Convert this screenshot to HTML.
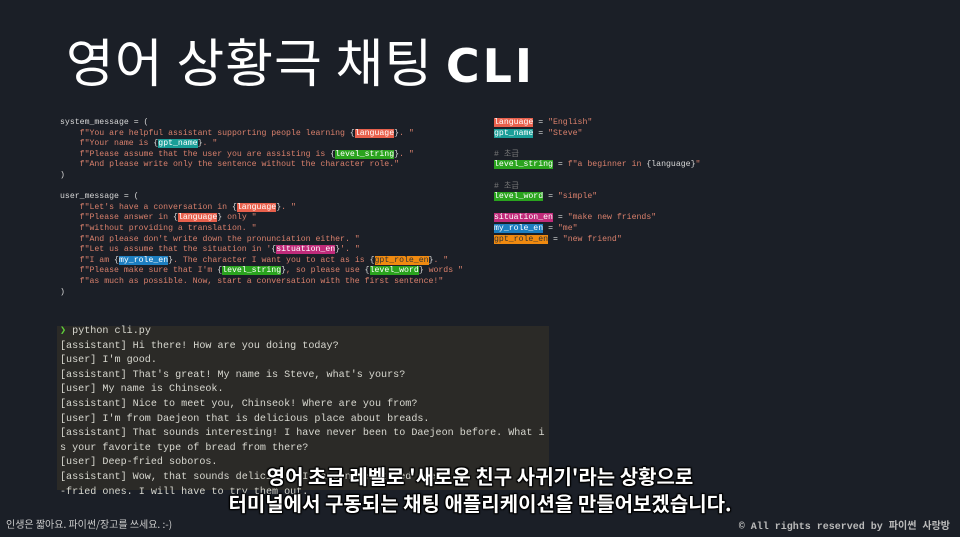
<!DOCTYPE html>
<html><head><meta charset="utf-8"><style>
*{margin:0;padding:0}
body{width:960px;height:537px;background:#1b1f27;position:relative;overflow:hidden;font-family:"Liberation Sans","Noto Sans CJK KR",sans-serif}
.t{position:absolute;left:66px;top:22px;color:#fff;font-size:52px;font-family:"Noto Sans CJK KR","Liberation Sans",sans-serif;white-space:nowrap;letter-spacing:1px}
.t b{font-family:"DejaVu Sans","Liberation Sans",sans-serif;font-weight:bold;font-size:46px;letter-spacing:3px}
pre{font-family:"Liberation Mono","Noto Sans CJK KR",monospace;position:absolute;white-space:pre}
.c{left:60px;top:118px;font-size:8.2px;line-height:10.6px;color:#d9806c}
.c2{left:494px;top:118px;font-size:8.2px;line-height:10.6px;color:#d9806c}
.w{color:#d8d8d8}.cm{color:#777}
.r{background:#e8604c;color:#fff}.tl{background:#1a9e98;color:#fff}.g{background:#2aa31e;color:#fff}
.m{background:#c02b7a;color:#fff}.b{background:#1d7ec0;color:#fff}.o{background:#f08a10;color:#333}
.term{position:absolute;left:57px;top:326px;width:492px;height:164px;background:#2b2a27}
.tt{left:60px;top:325px;font-size:10.1px;line-height:14.6px;color:#d8d8d0}
.sub{position:absolute;left:0;width:960px;text-align:center;color:#fff;font-size:20px;font-weight:bold;font-family:"Noto Sans CJK KR",sans-serif;text-shadow:0 0 2px #000,1px 1px 1px #000,-1px -1px 1px #000,1px -1px 1px #000,-1px 1px 1px #000;white-space:nowrap}
.f1{position:absolute;left:6px;top:516px;color:#ccc;font-size:10px;font-family:"Noto Sans CJK KR",sans-serif}
.f2{position:absolute;right:10px;top:517px;color:#bbb;font-size:10px;font-family:"Liberation Mono","Noto Sans CJK KR",monospace;font-weight:bold}
</style></head><body>
<div class="t">영어 상황극 채팅 <b>CLI</b></div>
<pre class="c"><span class="w">system_message = (</span>
    f"You are helpful assistant supporting people learning <span class="w">{</span><span class="r">language</span><span class="w">}</span>. "
    f"Your name is <span class="w">{</span><span class="tl">gpt_name</span><span class="w">}</span>. "
    f"Please assume that the user you are assisting is <span class="w">{</span><span class="g">level_string</span><span class="w">}</span>. "
    f"And please write only the sentence without the character role."
<span class="w">)</span>

<span class="w">user_message = (</span>
    f"Let's have a conversation in <span class="w">{</span><span class="r">language</span><span class="w">}</span>. "
    f"Please answer in <span class="w">{</span><span class="r">language</span><span class="w">}</span> only "
    f"without providing a translation. "
    f"And please don't write down the pronunciation either. "
    f"Let us assume that the situation in '<span class="w">{</span><span class="m">situation_en</span><span class="w">}</span>'. "
    f"I am <span class="w">{</span><span class="b">my_role_en</span><span class="w">}</span>. The character I want you to act as is <span class="w">{</span><span class="o">gpt_role_en</span><span class="w">}</span>. "
    f"Please make sure that I'm <span class="w">{</span><span class="g">level_string</span><span class="w">}</span>, so please use <span class="w">{</span><span class="g">level_word</span><span class="w">}</span> words "
    f"as much as possible. Now, start a conversation with the first sentence!"
<span class="w">)</span></pre>
<pre class="c2"><span class="r">language</span> <span class="w">=</span> "English"
<span class="tl">gpt_name</span> <span class="w">=</span> "Steve"

<span class="cm"># 초급</span>
<span class="g">level_string</span> <span class="w">=</span> f"a beginner in <span class="w">{language}</span>"

<span class="cm"># 초급</span>
<span class="g">level_word</span> <span class="w">=</span> "simple"

<span class="m">situation_en</span> <span class="w">=</span> "make new friends"
<span class="b">my_role_en</span> <span class="w">=</span> "me"
<span class="o">gpt_role_en</span> <span class="w">=</span> "new friend"</pre>
<div class="term"></div>
<pre class="tt"><span style="color:#5fd03a">❯</span> python cli.py
[assistant] Hi there! How are you doing today?
[user] I'm good.
[assistant] That's great! My name is Steve, what's yours?
[user] My name is Chinseok.
[assistant] Nice to meet you, Chinseok! Where are you from?
[user] I'm from Daejeon that is delicious place about breads.
[assistant] That sounds interesting! I have never been to Daejeon before. What i
s your favorite type of bread from there?
[user] Deep-fried soboros.
[assistant] Wow, that sounds delicious! I have never tried deep
-fried ones. I will have to try them out.</pre>
<div class="sub" style="top:461px">영어 초급 레벨로 '새로운 친구 사귀기'라는 상황으로</div>
<div class="sub" style="top:488px">터미널에서 구동되는 채팅 애플리케이션을 만들어보겠습니다.</div>
<div class="f1">인생은 짧아요. 파이썬/장고를 쓰세요. :-)</div>
<div class="f2">© All rights reserved by 파이썬 사랑방</div>
</body></html>
